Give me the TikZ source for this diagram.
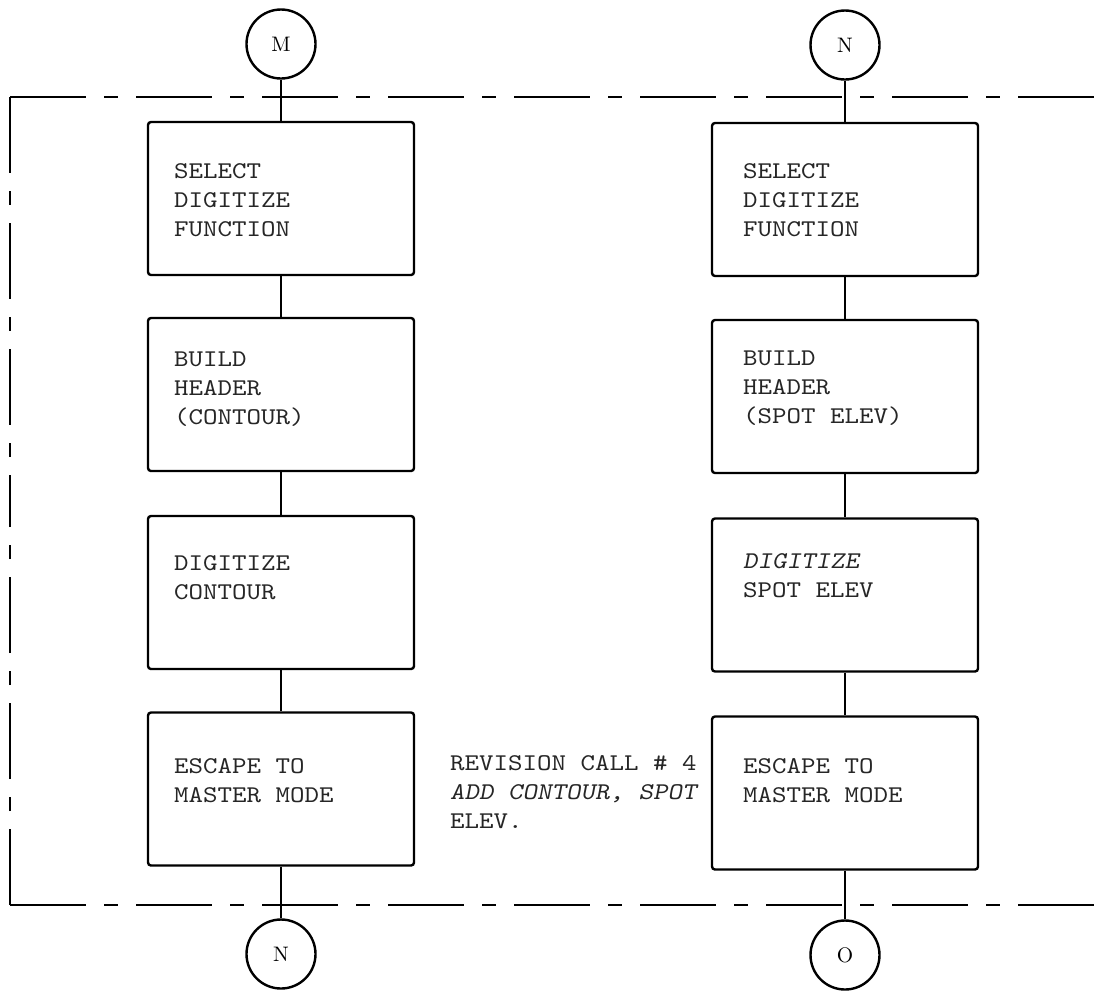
\documentclass[tikz,border=0pt]{standalone}
\usepackage{fontspec}
\setmonofont{lmmono10-regular.otf}[FakeStretch=1.15]
\newfontfamily\slanttt{lmmonoslant10-regular.otf}[FakeStretch=1.15]
\begin{document}
\begin{tikzpicture}[x=0.5pt,y=-0.5pt,line width=1.2pt,
  box/.style={draw,rounded corners=1.5pt,minimum width=133pt,minimum height=76.5pt,inner sep=0pt},
  conn/.style={draw,circle,minimum size=34.5pt,inner sep=0pt,font=\fontsize{10.5}{12}\selectfont},
  txt/.style={anchor=north west,align=left,inner sep=0pt,text=black!85,font=\ttfamily\fontsize{12}{14.5}\selectfont},
  link/.style={line width=1.2pt},
  border/.style={line width=1.2pt,dash pattern=on 38pt off 9pt on 7pt off 9pt}]
\useasboundingbox (0,0) rectangle (1097,992);
% boundary
\coordinate (tl) at (10,97);
\coordinate (tr) at (1097,97);
\coordinate (bl) at (10,905);
\coordinate (br) at (1097,905);
\coordinate (lm) at (10,500);
\draw[border] (tl) -- (tr);
\draw[border] (bl) -- (br);
\draw[border] (tl) -- (lm);
\draw[border] (bl) -- (lm);
% left column
\node[conn] (M) at (281,44) {M};
\node[box] (L1) at (281,198.5) {};
\node[box] (L2) at (281,394.5) {};
\node[box] (L3) at (281,592.5) {};
\node[box] (L4) at (281,789) {};
\node[conn] (N2) at (281,954) {N};
\node[txt] (tL1) at (173,156.7) {\strut SELECT\\DIGITIZE\\FUNCTION};
\node[txt] (tL2) at (173,344.7) {\strut BUILD\\HEADER\\(CONTOUR)};
\node[txt] (tL3) at (173,548.7) {\strut DIGITIZE\\CONTOUR};
\node[txt] (tL4) at (173,751.7) {\strut ESCAPE TO\\MASTER MODE};
\draw[link] (M.south) -- (L1.north);
\draw[link] (L1.south) -- (L2.north);
\draw[link] (L2.south) -- (L3.north);
\draw[link] (L3.south) -- (L4.north);
\draw[link] (L4.south) -- (N2.north);
% right column
\node[conn] (N1) at (845,45) {N};
\node[box] (R1) at (845,199.5) {};
\node[box] (R2) at (845,396.5) {};
\node[box] (R3) at (845,595) {};
\node[box] (R4) at (845,793) {};
\node[conn] (O) at (845,955) {O};
\node[txt] (tR1) at (742,156.7) {\strut SELECT\\DIGITIZE\\FUNCTION};
\node[txt] (tR2) at (742,343.7) {\strut BUILD\\HEADER\\(SPOT ELEV)};
\node[txt] (tR3) at (742,546.7) {\strut {\slanttt DIGITIZE}\\SPOT ELEV};
\node[txt] (tR4) at (742,751.7) {\strut ESCAPE TO\\MASTER MODE};
\draw[link] (N1.south) -- (R1.north);
\draw[link] (R1.south) -- (R2.north);
\draw[link] (R2.south) -- (R3.north);
\draw[link] (R3.south) -- (R4.north);
\draw[link] (R4.south) -- (O.north);
% note
\node[txt] (note) at (449,748.7) {\strut REVISION CALL \# 4\\{\slanttt ADD CONTOUR, SPOT}\\ELEV.};
\end{tikzpicture}
\end{document}
